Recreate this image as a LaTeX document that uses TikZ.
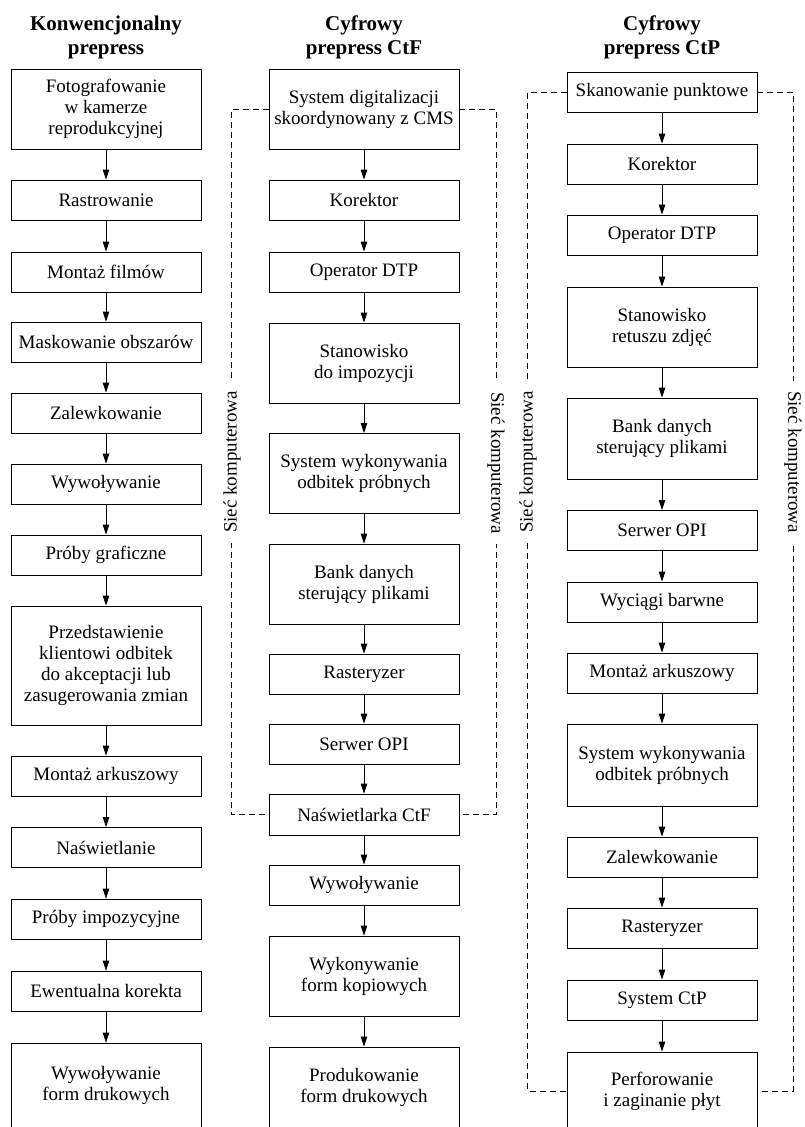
\documentclass[tikz,border=0pt]{standalone}
\usepackage{fontspec}
\setmainfont{Liberation Serif}
\usetikzlibrary{arrows.meta}
\tikzset{
  box/.style={draw, line width=0.9pt, minimum width=190pt, align=center, inner sep=2pt,
    font=\fontsize{19}{21}\selectfont},
  title/.style={align=center, font=\fontsize{21}{24}\selectfont\bfseries},
  arr/.style={line width=0.9pt, -{Triangle[length=10pt,width=6.5pt]}},
  net/.style={line width=0.8pt, dash pattern=on 6pt off 4pt},
  netlabel/.style={fill=white, inner xsep=10pt, inner ysep=1pt, font=\fontsize{19}{21}\selectfont}
}
\begin{document}
\begin{tikzpicture}[x=1pt,y=-1pt]
\clip (0,0) rectangle (804,1127);
\useasboundingbox (0,0) rectangle (804,1127);
% titles
\node[title] (t1) at (106,37) {Konwencjonalny\\prepress};
\node[title] (t2) at (364,37) {Cyfrowy\\prepress CtF};
\node[title] (t3) at (662,37) {Cyfrowy\\prepress CtP};
% column 1
\node[box, minimum height=80pt] (a1) at (106,109) {Fotografowanie\\w kamerze\\reprodukcyjnej};
\node[box, minimum height=40pt] (a2) at (106,200) {Rastrowanie};
\node[box, minimum height=40pt] (a3) at (106,272) {Montaż filmów};
\node[box, minimum height=40pt] (a4) at (106,342) {Maskowanie obszarów};
\node[box, minimum height=40pt] (a5) at (106,413) {Zalewkowanie};
\node[box, minimum height=40pt] (a6) at (106,484) {Wywoływanie};
\node[box, minimum height=40pt] (a7) at (106,555) {Próby graficzne};
\node[box, minimum height=119pt] (a8) at (106,665.5) {Przedstawienie\\klientowi odbitek\\do akceptacji lub\\zasugerowania zmian};
\node[box, minimum height=40pt] (a9) at (106,776) {Montaż arkuszowy};
\node[box, minimum height=40pt] (a10) at (106,847.5) {Naświetlanie};
\node[box, minimum height=40pt] (a11) at (106,919) {Próby impozycyjne};
\node[box, minimum height=40pt] (a12) at (106,991) {Ewentualna korekta};
\node[box, minimum height=85pt] (a13) at (106,1085.5) {Wywoływanie\\form drukowych};
\foreach \i/\j in {a1/a2,a2/a3,a3/a4,a4/a5,a5/a6,a6/a7,a7/a8,a8/a9,a9/a10,a10/a11,a11/a12,a12/a13}
  \draw[arr] (\i.south) -- (\j.north);
% column 2
\node[box, minimum height=80pt] (b1) at (364,109) {System digitalizacji\\skoordynowany z CMS};
\node[box, minimum height=40pt] (b2) at (364,200) {Korektor};
\node[box, minimum height=40pt] (b3) at (364,272) {Operator DTP};
\node[box, minimum height=80pt] (b4) at (364,363) {Stanowisko\\do impozycji};
\node[box, minimum height=80pt] (b5) at (364,473.5) {System wykonywania\\odbitek próbnych};
\node[box, minimum height=80pt] (b6) at (364,584) {Bank danych\\sterujący plikami};
\node[box, minimum height=40pt] (b7) at (364,674) {Rasteryzer};
\node[box, minimum height=40pt] (b8) at (364,744) {Serwer OPI};
\node[box, minimum height=41pt] (b9) at (364,814.5) {Naświetlarka CtF};
\node[box, minimum height=40pt] (b10) at (364,885) {Wywoływanie};
\node[box, minimum height=80pt] (b11) at (364,976) {Wykonywanie\\form kopiowych};
\node[box, minimum height=81pt] (b12) at (364,1087.5) {Produkowanie\\form drukowych};
\foreach \i/\j in {b1/b2,b2/b3,b3/b4,b4/b5,b5/b6,b6/b7,b7/b8,b8/b9,b9/b10,b10/b11,b11/b12}
  \draw[arr] (\i.south) -- (\j.north);
\draw[net] (b1.west) -| ([xshift=-37pt]b9.west) -- (b9.west);
\draw[net] (b1.east) -| ([xshift=37pt]b9.east) -- (b9.east);
\node[netlabel, rotate=90] (l2a) at (232,462) {Sieć komputerowa};
\node[netlabel, rotate=-90] (l2b) at (496,463) {Sieć komputerowa};
% column 3
\node[box, minimum height=40pt] (c1) at (662,92) {Skanowanie punktowe};
\node[box, minimum height=40pt] (c2) at (662,164) {Korektor};
\node[box, minimum height=40pt] (c3) at (662,235) {Operator DTP};
\node[box, minimum height=80pt] (c4) at (662,327) {Stanowisko\\retuszu zdjęć};
\node[box, minimum height=81pt] (c5) at (662,438.5) {Bank danych\\sterujący plikami};
\node[box, minimum height=40pt] (c6) at (662,530.5) {Serwer OPI};
\node[box, minimum height=40pt] (c7) at (662,602) {Wyciągi barwne};
\node[box, minimum height=40pt] (c8) at (662,673) {Montaż arkuszowy};
\node[box, minimum height=82pt] (c9) at (662,765) {System wykonywania\\odbitek próbnych};
\node[box, minimum height=40pt] (c10) at (662,857) {Zalewkowanie};
\node[box, minimum height=40pt] (c11) at (662,928) {Rasteryzer};
\node[box, minimum height=40pt] (c12) at (662,1000) {System CtP};
\node[box, minimum height=78pt] (c13) at (662,1091) {Perforowanie\\i zaginanie płyt};
\foreach \i/\j in {c1/c2,c2/c3,c3/c4,c4/c5,c5/c6,c6/c7,c7/c8,c8/c9,c9/c10,c10/c11,c11/c12,c12/c13}
  \draw[arr] (\i.south) -- (\j.north);
\draw[net] (c1.west) -| ([xshift=-39pt]c13.west) -- (c13.west);
\draw[net] (c1.east) -| ([xshift=36pt]c13.east) -- (c13.east);
\node[netlabel, rotate=90] (l3a) at (528,462) {Sieć komputerowa};
\node[netlabel, rotate=-90] (l3b) at (793,462) {Sieć komputerowa};
\end{tikzpicture}
\end{document}
